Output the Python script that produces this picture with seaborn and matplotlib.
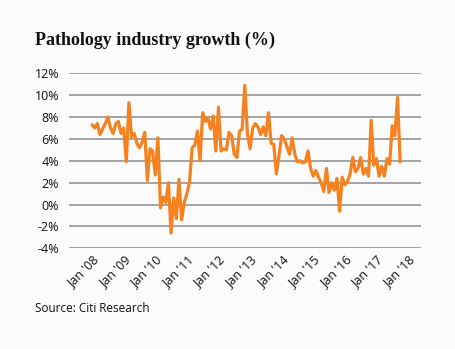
import numpy as np
import pandas as pd
import matplotlib
matplotlib.use("Agg")
import matplotlib.pyplot as plt
import seaborn as sns

# Monthly pathology industry growth (%), Jan 2008 - Oct 2017
growth = [
    7.3, 7.0, 7.4, 6.4, 6.9, 7.4, 8.0, 7.0, 6.5, 7.4, 7.6, 6.5,   # 2008
    7.0, 3.9, 9.3, 6.2, 6.5, 5.6, 5.2, 5.7, 6.6, 2.2, 5.1, 4.9,   # 2009
    2.7, 6.1, -0.3, 0.7, 0.2, 2.0, -2.6, 0.6, -1.3, 2.3, -1.4, 0.2,  # 2010
    1.0, 2.0, 5.2, 5.4, 6.7, 4.0, 8.4, 7.6, 7.9, 6.9, 8.1, 4.9,   # 2011
    8.9, 4.9, 5.1, 5.0, 6.6, 6.3, 4.6, 4.3, 6.7, 6.9, 10.9, 6.5,  # 2012
    5.1, 7.0, 7.4, 7.1, 6.4, 7.1, 6.3, 8.4, 5.6, 5.5, 2.8, 4.5,   # 2013
    6.3, 6.0, 5.3, 4.6, 6.1, 4.6, 3.9, 4.0, 3.8, 3.9, 4.9, 3.3,   # 2014
    2.6, 3.1, 2.5, 2.0, 1.2, 3.3, 1.1, 2.0, 1.3, 2.4, -0.6, 2.5,  # 2015
    1.8, 2.1, 2.8, 4.3, 3.0, 3.3, 4.3, 2.8, 3.3, 2.6, 7.7, 3.6,   # 2016
    4.2, 2.6, 3.5, 2.6, 4.2, 3.7, 7.2, 6.3, 9.8, 3.9,             # 2017
]
start_year = 2008
tick_years = list(range(2008, 2019))
tick_labels = ["Jan '%02d" % (y % 100) for y in tick_years]
y_ticks = [-4, -2, 0, 2, 4, 6, 8, 10, 12]
y_labels = ["%d%%" % v for v in y_ticks]

months = np.arange(len(growth))
df = pd.DataFrame({"t": start_year + months / 12.0, "growth": growth})

bg = "#fbfbfb"
fig = plt.figure(figsize=(4.56, 3.49), dpi=100, facecolor=bg)
ax = fig.add_axes([69 / 456, 1 - 248.3 / 349, (421 - 69) / 456, (248.3 - 73.3) / 349])
ax.set_facecolor(bg)

sns.lineplot(data=df, x="t", y="growth", ax=ax, color="#f5821f", linewidth=2.3,
             solid_joinstyle="round", solid_capstyle="round", zorder=3)

ax.set_xlim(2007.27, 2018.41)
ax.set_ylim(-4, 12)
ax.set_yticks(y_ticks)
ax.set_yticklabels(y_labels, fontname="Open Sans", fontsize=9, color="#111111")
ax.set_xticks(tick_years)
ax.set_xticklabels(tick_labels, rotation=45, ha="right", rotation_mode="anchor",
                   fontname="Open Sans", fontsize=9, color="#111111")
ax.tick_params(axis="both", length=0)
ax.tick_params(axis="y", pad=7)
ax.tick_params(axis="x", pad=4)
ax.grid(axis="y", color="#8c8c8c", linewidth=1.1)
ax.grid(axis="x", visible=False)
for s in ax.spines.values():
    s.set_visible(False)
ax.set_xlabel("")
ax.set_ylabel("")

fig.text(35 / 456, 1 - 45 / 349, "Pathology industry growth (%)", fontname="Liberation Serif",
         fontweight="bold", fontsize=13, color="#111111", ha="left", va="baseline")
fig.text(35 / 456, 1 - 309 / 349, "Source: Citi Research", fontname="Open Sans",
         fontsize=8.5, color="#111111", ha="left", va="center")

fig.savefig("out.png", dpi=100, facecolor=bg)
